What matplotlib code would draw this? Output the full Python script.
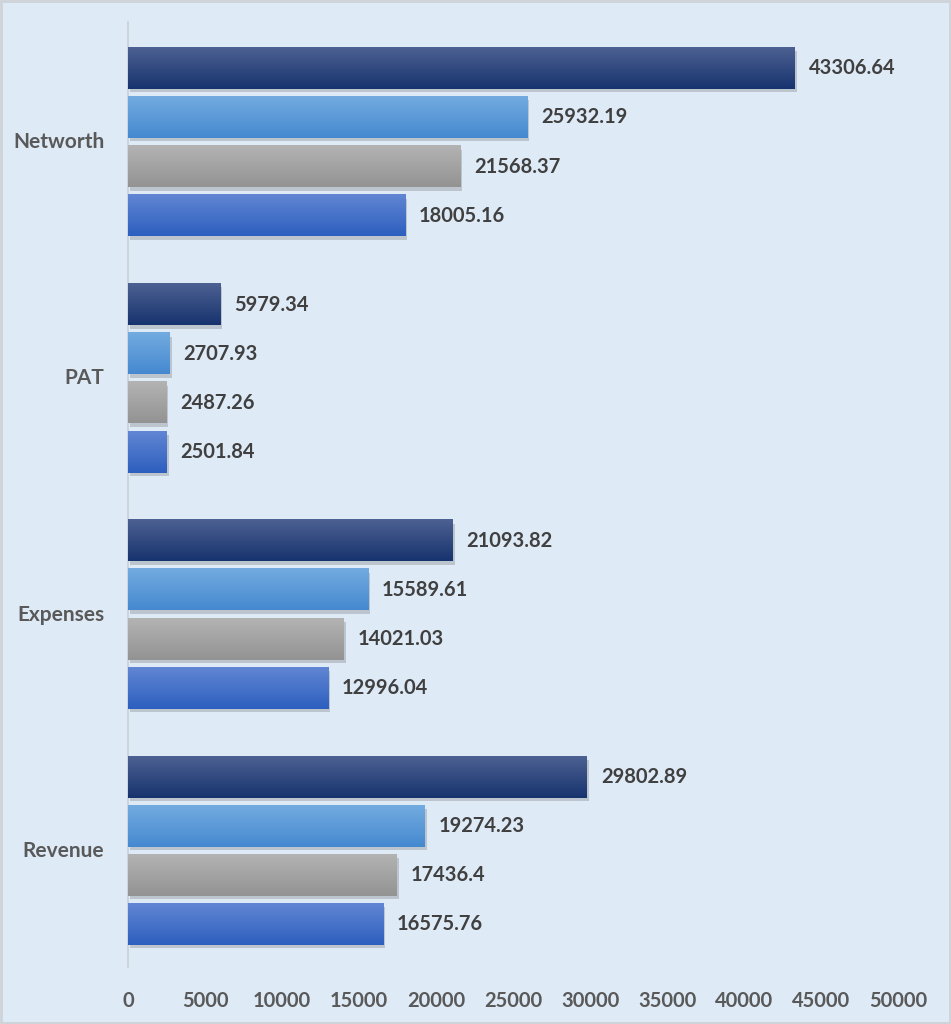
import numpy as np
import matplotlib.pyplot as plt
import matplotlib.patheffects as pe
from matplotlib.patches import Rectangle
from matplotlib.colors import LinearSegmentedColormap

# categories from bottom to top
categories = ["Revenue", "Expenses", "PAT", "Networth"]

# series, drawn from bottom to top inside each group
series_1 = [16575.76, 12996.04, 2501.84, 18005.16]
series_2 = [17436.4, 14021.03, 2487.26, 21568.37]
series_3 = [19274.23, 15589.61, 2707.93, 25932.19]
series_4 = [29802.89, 21093.82, 5979.34, 43306.64]

x_ticks = [0, 5000, 10000, 15000, 20000, 25000, 30000, 35000, 40000, 45000, 50000]

all_series = [series_1, series_2, series_3, series_4]
# (top colour, bottom colour) for the vertical gradient on each bar
colors = [("#6186d3", "#2d5fbf"),
          ("#b3b3b3", "#939393"),
          ("#72abe0", "#4689d0"),
          ("#4d6192", "#17336e")]

bg = "#deeaf6"
plt.rcParams['font.family'] = ['Lato', 'DejaVu Sans']

fig = plt.figure(figsize=(9.51, 10.24), dpi=100, facecolor=bg)
ax = fig.add_axes([0.1346, 0.0557, 0.8097, 0.9228])
ax.set_facecolor(bg)

pitch = 0.208
height = 0.174
y = np.arange(len(categories))

for i, (vals, (c_top, c_bot)) in enumerate(zip(all_series, colors)):
    bars = ax.barh(y + (i - 1.5) * pitch - 0.008, vals, height=height, color=c_bot,
                   zorder=2,
                   path_effects=[pe.SimplePatchShadow(offset=(1.5, -2.5), alpha=0.22,
                                                      shadow_rgbFace="#444444"),
                                 pe.Normal()])
    cmap = LinearSegmentedColormap.from_list("g", [c_bot, c_top])
    grad = np.linspace(0, 1, 64).reshape(-1, 1)
    for b, v in zip(bars, vals):
        x0, y0, w, h = b.get_x(), b.get_y(), b.get_width(), b.get_height()
        ax.imshow(grad, cmap=cmap, aspect='auto', origin='lower',
                  extent=[x0, x0 + w, y0, y0 + h], zorder=3, interpolation='bilinear')
        ax.text(v + 900, y0 + h / 2, str(v), va='center', ha='left',
                fontsize=14.5, fontweight='bold', color="#404040", zorder=4)

ax.set_xlim(0, 50000)
ax.set_ylim(-0.5, 3.5)
ax.set_xticks(x_ticks)
ax.set_xticklabels([str(t) for t in x_ticks])
ax.set_yticks(y)
ax.set_yticklabels(categories)
ax.tick_params(axis='both', length=0, labelsize=14.5, labelcolor="#595959")
ax.tick_params(axis='y', labelsize=15)
ax.tick_params(axis='x', pad=17)
ax.tick_params(axis='y', pad=17)
for lab in ax.get_xticklabels() + ax.get_yticklabels():
    lab.set_fontweight('bold')

for s in ['top', 'right', 'bottom']:
    ax.spines[s].set_visible(False)
ax.spines['left'].set_color("#c9cfd6")
ax.spines['left'].set_linewidth(1.2)

fig.patches.append(Rectangle((0.001, 0.001), 0.998, 0.998, transform=fig.transFigure,
                             fill=False, edgecolor="#cfd3d8", linewidth=2))

fig.savefig("out.png", dpi=100, facecolor=bg)
